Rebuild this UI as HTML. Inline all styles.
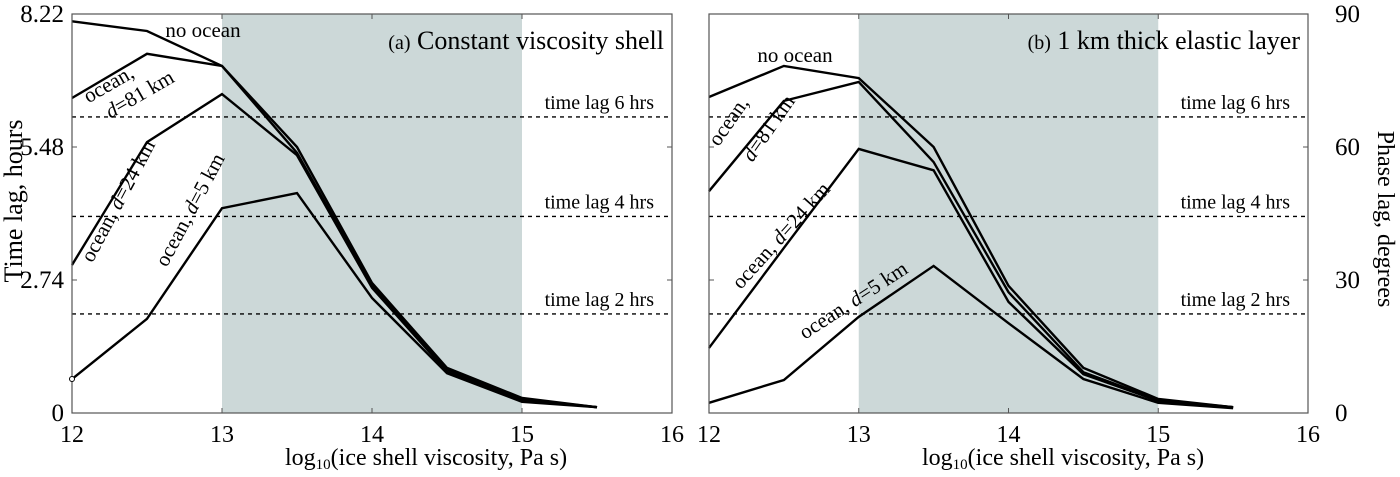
<!DOCTYPE html>
<html><head><meta charset="utf-8"><style>
body{margin:0;background:#fff}
svg text{font-family:"Liberation Serif",serif;fill:#000}
</style></head><body>
<svg id="c" width="1400" height="472" xmlns="http://www.w3.org/2000/svg"></svg>
<script>
const xs=[12,12.5,13,13.5,14,14.5,15,15.5];
const aNoOcean=[8.07,7.87,7.15,5.48,2.68,0.93,0.31,0.12];
const a81=[6.49,7.40,7.15,5.36,2.62,0.90,0.29,0.12];
const a24=[3.05,5.58,6.57,5.31,2.58,0.85,0.27,0.12];
const a5=[0.70,1.94,4.22,4.53,2.37,0.82,0.23,0.12];
const bNoOcean=[6.51,7.15,6.90,5.48,2.62,0.93,0.29,0.12];
const b81=[4.57,6.43,6.82,5.17,2.49,0.84,0.27,0.12];
const b24=[1.34,3.40,5.44,5.00,2.29,0.80,0.25,0.12];
const b5=[0.21,0.68,1.98,3.03,1.85,0.70,0.21,0.10];
const lagLevels=[6.1,4.05,2.04];
const lagLabels=["time lag 6 hrs","time lag 4 hrs","time lag 2 hrs"];
const xTicks=[12,13,14,15,16];
const yTicks=[0,2.74,5.48,8.22];
const yTickLabels=["0","2.74","5.48","8.22"];
const degTicks=[0,30,60,90];
const shade=[13,15];
const NS="http://www.w3.org/2000/svg";
const svg=document.getElementById('c');
function el(t,a,p){const e=document.createElementNS(NS,t);for(const k in a)e.setAttribute(k,a[k]);(p||svg).appendChild(e);return e;}
const T=14,B=413;
function yS(h){return B-(h/8.22)*(B-T);}
function panel(L,R,series,title,tag,labels,name){
  const g=el('g',{});
  
  
  const xS=v=>L+(v-12)/4*(R-L);
  const sh=el('rect',{x:xS(shade[0]),y:T,width:xS(shade[1])-xS(shade[0]),height:B-T,fill:'#ccd8d8'},g);
  
  
  lagLevels.forEach((h,i)=>{
    const l=el('line',{x1:L,x2:R,y1:yS(h),y2:yS(h),stroke:'#000','stroke-width':1.4,'stroke-dasharray':'4,4'},g);
    
    
    const t=el('text',{x:R-18,y:yS(h)-8,'text-anchor':'end','font-size':20},g);t.textContent=lagLabels[i];
    
    
  });
  series.forEach(s=>{
    const p=el('polyline',{points:xs.map((x,i)=>xS(x)+','+yS(s[i])).join(' '),fill:'none',stroke:'#000','stroke-width':2.4,'stroke-linejoin':'miter'},g);
    
    
  });
  const f=el('rect',{x:L,y:T,width:R-L,height:B-T,fill:'none',stroke:'#555','stroke-width':1.2},g);
  
  
  xTicks.forEach(v=>{
    el('line',{x1:xS(v),x2:xS(v),y1:B,y2:B-5,stroke:'#555'},g);
    el('line',{x1:xS(v),x2:xS(v),y1:T,y2:T+5,stroke:'#555'},g);
    const t=el('text',{x:xS(v),y:B+29,'text-anchor':'middle','font-size':24},g);t.textContent=v;
    
    
  });
  yTicks.forEach(v=>{
    el('line',{x1:L,x2:L+5,y1:yS(v),y2:yS(v),stroke:'#555'},g);
    el('line',{x1:R,x2:R-5,y1:yS(v),y2:yS(v),stroke:'#555'},g);
  });
  const xt=el('text',{x:L+213,y:465,'text-anchor':'start','font-size':24},g);
  xt.innerHTML='log<tspan font-size="15" dy="4">10</tspan><tspan dy="-4">(ice shell viscosity, Pa s)</tspan>';
  
  
  const tt=el('text',{x:R-8,y:49,'text-anchor':'end','font-size':26},g);
  tt.innerHTML='<tspan font-size="20">'+tag+'</tspan>  '+title;
  
  
  labels.forEach(lb=>{
    const t=el('text',{x:lb[0],y:lb[1],'text-anchor':'middle','font-size':21,transform:'rotate('+lb[2]+' '+lb[0]+' '+lb[1]+')'},g);
    t.innerHTML=lb[3];
    
    
  });
}
panel(72,672,[aNoOcean,a81,a24,a5],'Constant viscosity shell','(a)',[
 [203,37,0,'no ocean'],[112,90,-30,'ocean,'],[143,100,-30,'<tspan font-style="italic">d</tspan>=81 km'],
 [124,204,-62,'ocean, <tspan font-style="italic">d</tspan>=24 km'],[196,213,-62,'ocean, <tspan font-style="italic">d</tspan>=5 km']
],'panel-a');
panel(709,1308,[bNoOcean,b81,b24,b5],'1 km thick elastic layer','(b)',[
 [795,62,0,'no ocean'],[734,125,-55,'ocean,'],[774,132,-55,'<tspan font-style="italic">d</tspan>=81 km'],
 [786,240,-48,'ocean, <tspan font-style="italic">d</tspan>=24 km'],[857,306,-33,'ocean, <tspan font-style="italic">d</tspan>=5 km']
],'panel-b');
const c=el('circle',{cx:72,cy:yS(a5[0]),r:2.5,fill:'#fff',stroke:'#000'});


yTicks.forEach((v,i)=>{
  const t=el('text',{x:64,y:yS(v)+8,'text-anchor':'end','font-size':25});t.textContent=yTickLabels[i];
  
  
});
degTicks.forEach(v=>{
  const t=el('text',{x:1335,y:B-(v/90)*(B-T)+8,'text-anchor':'start','font-size':25});t.textContent=v;
  
  
});
const yl=el('text',{x:22,y:201,'text-anchor':'middle','font-size':26,transform:'rotate(-90 22 201)'});
yl.textContent='Time lag, hours';


const yr=el('text',{x:1378,y:219,'text-anchor':'middle','font-size':24,transform:'rotate(90 1378 219)'});
yr.textContent='Phase lag, degrees';


</script>
</body></html>
